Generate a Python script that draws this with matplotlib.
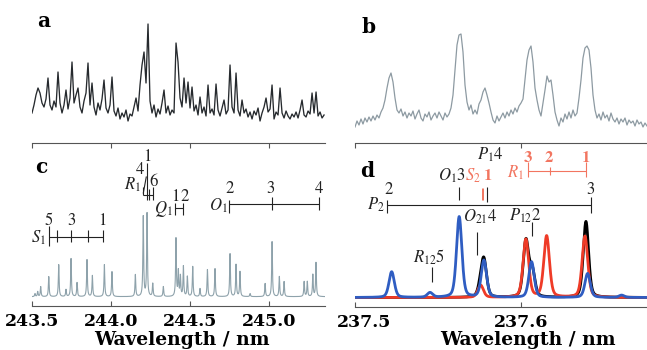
import numpy as np
import matplotlib.pyplot as plt
import matplotlib.transforms as mtransforms

plt.rcParams['mathtext.fontset'] = 'stix'

W, H = 647, 350

# --- panel a: measured spectrum (height above axis, px units), 243.5 .. 245.348 nm ---
a_vals = [30, 38, 48, 55, 50, 40, 36, 44, 65, 38, 33, 42, 36, 71, 40, 30, 38, 53, 34, 45,
          81, 40, 48, 55, 36, 30, 42, 50, 80, 38, 60, 36, 28, 40, 33, 44, 63, 35, 30, 38,
          66, 32, 27, 35, 24, 30, 26, 33, 22, 29, 27, 36, 45, 32, 58, 78, 91, 60, 119, 42,
          30, 38, 26, 34, 29, 40, 53, 30, 37, 28, 33, 30, 100, 81, 45, 36, 65, 40, 61, 35,
          56, 32, 38, 28, 46, 30, 36, 27, 58, 30, 34, 28, 59, 33, 27, 35, 43, 29, 33, 78,
          36, 30, 70, 33, 27, 43, 30, 34, 26, 31, 24, 32, 28, 35, 22, 30, 36, 45, 31, 34,
          58, 24, 31, 28, 55, 30, 25, 32, 27, 24, 29, 26, 31, 25, 33, 43, 28, 26, 32, 29,
          50, 30, 51, 27, 31, 25, 28]
a_range = (243.5, 245.348)

# --- panel b: measured spectrum, 237.5 .. 237.676 nm ---
b_vals = [16, 22, 18, 24, 19, 25, 21, 26, 22, 27, 23, 28, 25, 31, 35, 43, 55, 65, 70, 61,
          45, 33, 30, 34, 27, 31, 25, 30, 27, 32, 24, 29, 33, 25, 22, 29, 26, 31, 23, 27,
          30, 25, 31, 27, 23, 30, 26, 29, 35, 48, 73, 98, 108, 109, 91, 58, 41, 33, 38, 29,
          33, 29, 39, 43, 51, 55, 48, 40, 31, 23, 20, 27, 22, 26, 30, 25, 31, 27, 33, 29,
          35, 31, 37, 40, 44, 63, 83, 93, 97, 81, 55, 43, 33, 27, 40, 53, 67, 61, 63, 48,
          31, 23, 17, 25, 21, 29, 24, 31, 25, 33, 27, 30, 45, 63, 85, 95, 97, 93, 75, 48,
          33, 25, 29, 23, 31, 25, 28, 22, 30, 24, 21, 25, 19, 24, 21, 25, 18, 23, 20, 22,
          17, 23, 19, 21, 16, 20, 17]
b_range = (237.5, 237.676)

# --- panel c: simulated line positions (nm) and heights ---
c_centers = [243.519, 243.536, 243.555, 243.606, 243.669, 243.715, 243.747, 243.785,
             243.848, 243.882, 243.958, 244.006, 244.154, 244.204, 244.228, 244.264,
             244.331, 244.411, 244.426, 244.439, 244.458, 244.483, 244.517, 244.563,
             244.610, 244.658, 244.753, 244.791, 244.816, 244.880, 244.975, 245.019,
             245.065, 245.095, 245.222, 245.242, 245.277, 245.297]
c_heights = [3, 5, 10, 20, 32, 7, 38, 14, 37, 21, 32, 25, 22, 80, 83, 13, 10, 58, 25, 20,
             30, 20, 30, 8, 27, 28, 43, 32, 25, 3, 13, 55, 20, 15, 15, 15, 22, 34]

# --- panel d: simulated components ---
d_blue_centers = [237.5221, 237.5452, 237.5628, 237.5777, 237.6064, 237.6402, 237.6607]
d_blue_heights = [25.7, 4.7, 80.7, 37, 35.7, 24, 2.3]
d_red_centers = [237.5757, 237.6030, 237.6155, 237.6386]
d_red_heights = [12.3, 58, 61.3, 61.3]
d_black_centers = [237.5757, 237.5777, 237.6030, 237.6068, 237.6392]
d_black_heights = [9, 36, 56, 26, 76]

# assignment ladders
c_S1 = [243.6057, 243.660, 243.747, 243.8525, 243.9475]
c_R1 = [244.2044, 244.2297, 244.243, 244.264]
c_Q1 = [244.405, 244.454]
c_O1 = [244.749, 245.017, 245.318]
d_P2 = [237.5195, 237.6420]
d_R1 = [237.6040, 237.6177, 237.6392]

c_ticks = [243.5, 244.0, 244.5, 245.0]
c_ticklabels = ['243.5', '244.0', '244.5', '245.0']
d_ticks = [237.5, 237.6]
d_ticklabels = ['237.5', '237.6']


def lorentz_sum(x, centers, heights, hw):
    dx = x[:, None] - np.array(centers)[None, :]
    return (np.array(heights) * hw**2 / (dx**2 + hw**2)).sum(axis=1)


def voigt_sum(x, centers, heights, fwhm, eta=0.35):
    dx = x[:, None] - np.array(centers)[None, :]
    s = fwhm / 2.3548
    g = np.exp(-dx**2 / (2 * s**2))
    l = (fwhm / 2)**2 / (dx**2 + (fwhm / 2)**2)
    return (np.array(heights) * ((1 - eta) * g + eta * l)).sum(axis=1)


fig = plt.figure(figsize=(W / 100, H / 100), dpi=100)


def add_ax(left, top, right, bottom):
    return fig.add_axes([left / W, 1 - bottom / H, (right - left) / W, (bottom - top) / H])


ax_a = add_ax(32, 5, 325, 143)
ax_b = add_ax(355, 5, 647, 143)
ax_c = add_ax(32, 143, 325, 306)
ax_d = add_ax(355, 143, 647, 307)

spine_col = '#555555'
ink = '#222222'
salmon = '#f27560'
tickfont = dict(family='DejaVu Serif', weight='bold', size=12.5)
ann = dict(family='STIXGeneral', size=12, color=ink)

for ax in (ax_a, ax_b):
    ax.axis('off')

ax_a.set_xlim(243.5, 245.354)
ax_a.set_ylim(0, 138)
ax_a.plot(np.linspace(*a_range, len(a_vals)), a_vals, color='#262a2e', lw=0.95)

ax_b.set_xlim(237.5, 237.676)
ax_b.set_ylim(0, 138)
ax_b.plot(np.linspace(*b_range, len(b_vals)), b_vals, color='#8d9aa2', lw=0.9)

# --- panel c ---
xc = np.linspace(243.5, 245.354, 5000)
ax_c.plot(xc, 9.3 + lorentz_sum(xc, c_centers, c_heights, 0.0028), color='#8ea2ab', lw=0.8)
ax_c.set_xlim(243.5, 245.354)
ax_c.set_ylim(0, 163)

# --- panel d ---
xd = np.linspace(237.5, 237.676, 3000)
ax_d.plot(xd, 9.5 + voigt_sum(xd, d_black_centers, d_black_heights, 0.0038), color='black', lw=2.0)
ax_d.plot(xd, 9.5 + voigt_sum(xd, d_red_centers, d_red_heights, 0.0040), color='#ef3b27', lw=2.0)
ax_d.plot(xd, 9.5 + voigt_sum(xd, d_blue_centers, d_blue_heights, 0.0038), color='#2f5dc2', lw=2.0)
ax_d.set_xlim(237.5, 237.676)
ax_d.set_ylim(0, 164)

for ax, ticks, labels in ((ax_c, c_ticks, c_ticklabels), (ax_d, d_ticks, d_ticklabels)):
    for s in ('left', 'right'):
        ax.spines[s].set_visible(False)
    for s in ('top', 'bottom'):
        ax.spines[s].set_color(spine_col)
        ax.spines[s].set_linewidth(0.8)
    ax.set_yticks([])
    ax.set_xticks(ticks)
    ax.set_xticklabels(labels, fontdict=tickfont)
    ax.tick_params(axis='x', direction='in', top=True, length=3.5, width=0.8,
                   color=spine_col, pad=5)
    ax.set_xlabel('Wavelength / nm', fontdict=dict(family='DejaVu Serif', weight='bold', size=13.5))

ax_c.xaxis.set_label_coords(0.51, -25 / 163)
ax_d.xaxis.set_label_coords(0.592, -24 / 164)
# first label of d sits a bit to the right of its tick
lab0 = ax_d.get_xticklabels()[0]
lab0.set_transform(lab0.get_transform() + mtransforms.ScaledTranslation(9 / 100, 0, fig.dpi_scale_trans))


def vl(ax, x, y0, y1, color=ink, lw=0.8):
    ax.plot([x, x], [y0, y1], color=color, lw=lw, clip_on=False, solid_capstyle='butt')


def hl(ax, x0, x1, y, color=ink, lw=0.8):
    ax.plot([x0, x1], [y, y], color=color, lw=lw, clip_on=False, solid_capstyle='butt')


def tx(ax, x, y, s, ha='center', **kw):
    opts = dict(ann)
    opts.update(kw)
    ax.text(x, y, s, ha=ha, va='center', **opts)


# S1 ladder
hl(ax_c, c_S1[0], c_S1[-1], 69.5)
vl(ax_c, c_S1[0], 60, 80)
for x in c_S1[1:]:
    vl(ax_c, x, 64, 76)
for x, s in zip((c_S1[0], c_S1[2], c_S1[4]), ('5', '3', '1')):
    tx(ax_c, x, 85, s)
tx(ax_c, 243.588, 68, r'$S_1$', ha='right')

# R1 ladder
hl(ax_c, c_R1[0], c_R1[-1], 111)
vl(ax_c, c_R1[0], 111, 119)
ax_c.plot([c_R1[0], 244.223], [113, 129], color=ink, lw=0.8, clip_on=False)
vl(ax_c, c_R1[1], 106, 143)
vl(ax_c, c_R1[2], 106, 117)
vl(ax_c, c_R1[3], 106, 119)
tx(ax_c, 244.1835, 136, '4')
tx(ax_c, 244.231, 149, '1')
tx(ax_c, 244.268, 124, '6')
tx(ax_c, 244.19, 121, r'$R_1$', ha='right')

# Q1 ladder
hl(ax_c, c_Q1[0], c_Q1[1], 98.5)
for x in c_Q1:
    vl(ax_c, x, 91, 103)
tx(ax_c, 244.410, 109, '1')
tx(ax_c, 244.463, 109, '2')
tx(ax_c, 244.392, 97, r'$Q_1$', ha='right')

# O1 ladder
hl(ax_c, c_O1[0], c_O1[-1], 102.5)
vl(ax_c, c_O1[0], 93, 106)
for x in c_O1[1:]:
    vl(ax_c, x, 96, 109)
for x, s in zip((244.752, 245.011, 245.318), ('2', '3', '4')):
    tx(ax_c, x, 117, s)
tx(ax_c, 244.740, 100, r'$O_1$', ha='right')

# --- panel d annotations ---
hl(ax_d, d_P2[0], d_P2[1], 102.5)
vl(ax_d, d_P2[0], 94, 107)
vl(ax_d, d_P2[1], 94, 110)
tx(ax_d, 237.5201, 117, '2')
tx(ax_d, 237.6420, 117, '3')
tx(ax_d, 237.5181, 102, r'$P_2$', ha='right')

vl(ax_d, 237.5628, 107, 120)
tx(ax_d, 237.5584, 131, r'$O_1$3')
vl(ax_d, 237.5763, 107, 119, color=salmon, lw=0.7)
vl(ax_d, 237.5772, 107, 119, color=salmon, lw=0.7)
tx(ax_d, 237.5759, 131, r'$S_2$', ha='right', color=salmon)
tx(ax_d, 237.5803, 131, '1', color=salmon, weight='bold')
vl(ax_d, 237.5793, 105, 120)
tx(ax_d, 237.5813, 152, r'$P_1$4')

hl(ax_d, d_R1[0], d_R1[-1], 136, color=salmon)
vl(ax_d, d_R1[0], 130, 145, color=salmon)
vl(ax_d, d_R1[1], 132, 140, color=salmon)
vl(ax_d, d_R1[2], 130, 145, color=salmon)
for x, s in zip((237.6040, 237.6167, 237.6392), ('3', '2', '1')):
    tx(ax_d, x, 149, s, color=salmon, weight='bold')
tx(ax_d, 237.6018, 134, r'$R_1$', ha='right', color=salmon)

tx(ax_d, 237.5753, 90, r'$O_{21}$4')
vl(ax_d, 237.5737, 52, 75)
tx(ax_d, 237.6024, 91, r'$P_{12}$2')
vl(ax_d, 237.6064, 71, 85)
tx(ax_d, 237.5446, 50, r'$R_{12}$5')
vl(ax_d, 237.5466, 25, 40)

# panel letters
for s, x, y in (('a', 37, 27), ('b', 362, 33), ('c', 35, 173), ('d', 360, 177)):
    fig.text(x / W, 1 - y / H, s, family='DejaVu Serif', weight='bold', size=14.5,
             ha='left', va='baseline', color='black')

fig.savefig('out.png', dpi=100, facecolor='white')
